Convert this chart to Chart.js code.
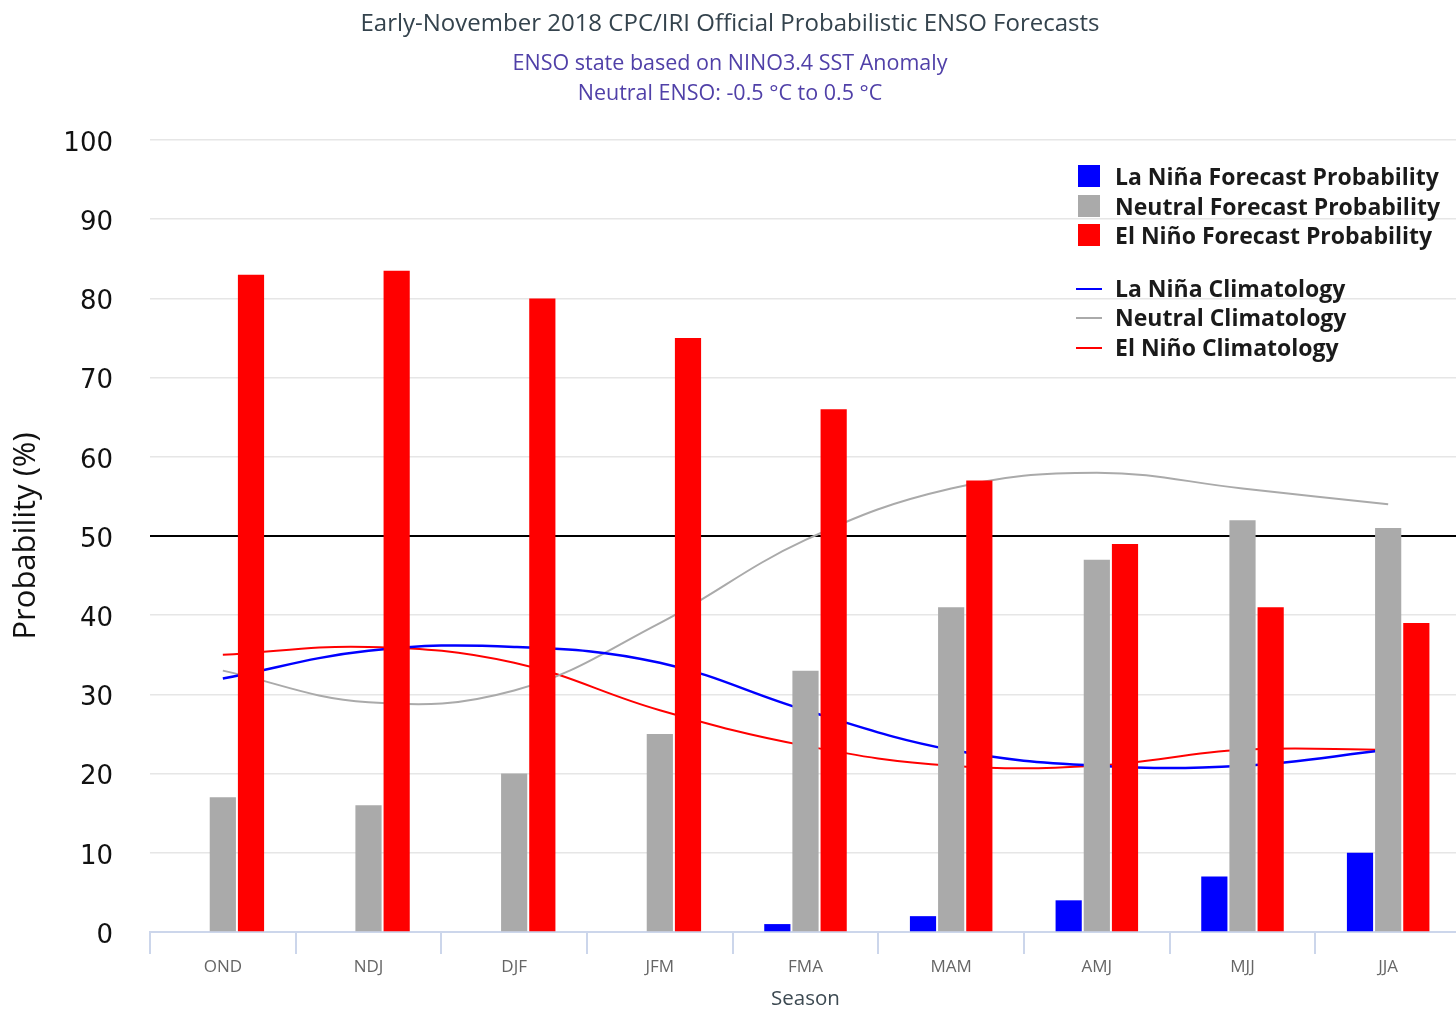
<!DOCTYPE html>
<html>
<head>
<meta charset="utf-8">
<script src="https://cdn.jsdelivr.net/npm/chart.js@4.4.1/dist/chart.umd.min.js"></script>
<style>
  html, body { margin: 0; padding: 0; background: #fff; overflow: hidden; }
  #wrap { position: relative; width: 1462px; height: 1010px; }
  .ttl { position: absolute; left: 0; width: 1460px; text-align: center; white-space: nowrap;
         font-family: 'Open Sans', sans-serif; }
  #t1 { top: 5px; font-size: 24px; color: #34434d; }
  #t2 { top: 47px; font-size: 21.5px; color: #5040a8; }
  #t3 { top: 77px; font-size: 21.5px; color: #5040a8; }
  #legend { position: absolute; left: 1076px; top: 162px; font-family: 'Open Sans', sans-serif;
            font-weight: bold; font-size: 23px; color: #1a1a1a; }
  .row { position: relative; height: 29.5px; line-height: 29.5px; padding-left: 39px; white-space: nowrap; }
  .sq { position: absolute; left: 2px; top: 3px; width: 22px; height: 22px; }
  .ln { position: absolute; left: 0; top: 14px; width: 26px; height: 2px; }
  .gap { height: 23px; }
</style>
</head>
<body>
<div id="wrap">
  <canvas id="chart" width="1462" height="1010"></canvas>
  <div class="ttl" id="t1">Early-November 2018 CPC/IRI Official Probabilistic ENSO Forecasts</div>
  <div class="ttl" id="t2">ENSO state based on NINO3.4 SST Anomaly</div>
  <div class="ttl" id="t3">Neutral ENSO: -0.5 °C to 0.5 °C</div>
  <div id="legend"></div>
</div>
<script>
const seasons = ['OND', 'NDJ', 'DJF', 'JFM', 'FMA', 'MAM', 'AMJ', 'MJJ', 'JJA'];

// forecast probabilities (%)
const laNinaProb  = [0, 0, 0, 0, 1, 2, 4, 7, 10];
const neutralProb = [17, 16, 20, 25, 33, 41, 47, 52, 51];
const elNinoProb  = [83, 83.5, 80, 75, 66, 57, 49, 41, 39];

// climatology (%)
const laNinaClim  = [32, 35.5, 36, 34, 28, 23, 21, 21, 23];
const neutralClim = [33, 29, 30.5, 39, 49.5, 56, 58, 56, 54];
const elNinoClim  = [35, 36, 34, 28, 23.5, 21, 21, 23, 23];

const BLUE = '#0000ff', GRAY = '#aaaaaa', RED = '#ff0000';

const bar = (label, data, color) => ({
  type: 'bar', label, data,
  backgroundColor: color,
  borderWidth: 0,
  categoryPercentage: 0.58,
  barPercentage: 0.93,
  order: 0,
});

const line = (label, data, color, width) => ({
  type: 'line', label, data,
  borderColor: color,
  borderWidth: width,
  pointRadius: 0,
  tension: 0.4,
  fill: false,
  order: 1,
});

new Chart(document.getElementById('chart'), {
  data: {
    labels: seasons,
    datasets: [
      bar('La Niña Forecast Probability', laNinaProb, BLUE),
      bar('Neutral Forecast Probability', neutralProb, GRAY),
      bar('El Niño Forecast Probability', elNinoProb, RED),
      line('La Niña Climatology', laNinaClim, BLUE, 2.5),
      line('Neutral Climatology', neutralClim, GRAY, 2),
      line('El Niño Climatology', elNinoClim, RED, 2),
    ]
  },
  options: {
    responsive: false,
    animation: false,
    layout: { padding: { top: 140, right: 1, left: 0, bottom: 0 } },
    plugins: { legend: { display: false }, tooltip: { enabled: false } },
    scales: {
      x: {
        afterFit: s => { s.height = 78; },
        grid: { offset: true, drawOnChartArea: false, color: '#ccd6eb', lineWidth: 2, tickLength: 22 },
        border: { color: '#ccd6eb', width: 2 },
        ticks: { color: '#666666', padding: 3, font: { family: "'Open Sans', sans-serif", size: 17 } },
        title: { display: true, text: 'Season', color: '#3d4a52', padding: { top: 0, bottom: -1 },
                 font: { family: "'Open Sans', sans-serif", size: 20.5 } }
      },
      y: {
        min: 0, max: 100,
        afterFit: s => { s.width = 150; },
        ticks: { stepSize: 10, color: '#111111', padding: 37, labelOffset: 4,
                 font: { family: "'DejaVu Sans', sans-serif", size: 26 } },
        grid: {
          drawTicks: false,
          color: c => c.tick.value === 50 ? '#000000' : '#e6e6e6',
          lineWidth: c => c.tick.value === 50 ? 2 : 1.5,
        },
        border: { display: false },
        title: { display: true, text: 'Probability (%)', color: '#111111', padding: { top: 8, bottom: 0 },
                 font: { family: "'Open Sans', sans-serif", size: 31 } }
      }
    }
  }
});

// legend overlay
const legendItems = [
  ['sq', BLUE, 'La Niña Forecast Probability'],
  ['sq', GRAY, 'Neutral Forecast Probability'],
  ['sq', RED, 'El Niño Forecast Probability'],
  ['gap'],
  ['ln', BLUE, 'La Niña Climatology'],
  ['ln', GRAY, 'Neutral Climatology'],
  ['ln', RED, 'El Niño Climatology'],
];
const lg = document.getElementById('legend');
legendItems.forEach(([kind, color, text]) => {
  const row = document.createElement('div');
  if (kind === 'gap') { row.className = 'gap'; lg.appendChild(row); return; }
  row.className = 'row';
  const mark = document.createElement('span');
  mark.className = kind;
  mark.style.background = color;
  row.appendChild(mark);
  row.appendChild(document.createTextNode(text));
  lg.appendChild(row);
});
</script>
</body>
</html>
